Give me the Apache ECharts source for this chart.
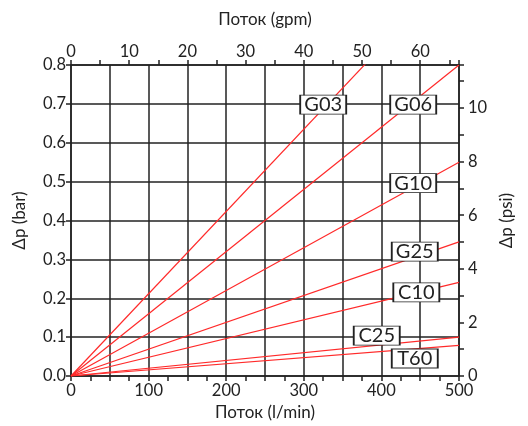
<!DOCTYPE html>
<html>
<head>
<meta charset="utf-8">
<script src="https://cdn.jsdelivr.net/npm/echarts@6/dist/echarts.min.js"></script>
<style>html,body{margin:0;padding:0;background:#fff}#c{width:528px;height:426px}</style>
</head>
<body>
<div id="c"></div>
<script>
// Flow (l/min) and pressure drop (bar) at those flows
const flow = [0, 500];
const G03 = [0, 1.058];
const G06 = [0, 0.800];
const G10 = [0, 0.550];
const G25 = [0, 0.345];
const C10 = [0, 0.241];
const C25 = [0, 0.100];
const T60 = [0, 0.079];
const seriesNames = ['G03', 'G06', 'G10', 'G25', 'C10', 'C25', 'T60'];
const seriesValues = [G03, G06, G10, G25, C10, C25, T60];
// label anchor (in data units) for each series tag
const tagX = [325, 441, 441, 443, 445, 394, 443];
const tagY = [0.698, 0.698, 0.496, 0.320, 0.215, 0.104, 0.045];

const FONT = 'Lato, "DejaVu Sans", sans-serif';
const INK = '#222';
const LPM_PER_GPM = 7.5;
const PSI_PER_BAR = 14.5038;

const chart = echarts.init(document.getElementById('c'));
const axisLineStyle = { color: INK, width: 1.5 };
const baseLabel = { color: INK, fontSize: 16.5, fontFamily: FONT };

chart.setOption({
  animation: false,
  backgroundColor: '#fff',
  grid: { left: 71, right: 69, top: 65, bottom: 50, containLabel: false },
  xAxis: [
    {
      type: 'value', position: 'bottom', min: 0, max: 500, interval: 50,
      name: 'Поток (l/min)', nameLocation: 'middle', nameGap: 28,
      nameTextStyle: { color: INK, fontSize: 17, fontFamily: FONT },
      axisLine: { show: true, lineStyle: axisLineStyle },
      axisTick: { show: true, inside: false, length: 5, lineStyle: axisLineStyle },
      minorTick: { show: true, splitNumber: 2, length: 5, lineStyle: axisLineStyle },
      splitLine: { show: true, lineStyle: { color: INK, width: 1.5 } },
      axisLabel: Object.assign({}, baseLabel, { margin: 6, formatter: v => (v % 100 === 0 ? String(v) : '') })
    },
    {
      type: 'value', position: 'top', min: 0, max: 500 / LPM_PER_GPM, interval: 10,
      name: 'Поток (gpm)', nameLocation: 'middle', nameGap: 37,
      nameTextStyle: { color: INK, fontSize: 17, fontFamily: FONT },
      axisLine: { show: true, onZero: false, lineStyle: axisLineStyle },
      axisTick: { show: true, inside: false, length: 5, lineStyle: axisLineStyle },
      minorTick: { show: true, splitNumber: 2, length: 5, lineStyle: axisLineStyle },
      splitLine: { show: false },
      axisLabel: Object.assign({}, baseLabel, { margin: 5, showMaxLabel: false, formatter: v => (Math.abs(v % 10) < 1e-6 ? String(Math.round(v)) : '') })
    }
  ],
  yAxis: [
    {
      type: 'value', position: 'left', min: 0, max: 0.8, interval: 0.1,
      name: 'Δp (bar)', nameLocation: 'middle', nameGap: 43, nameRotate: 90,
      nameTextStyle: { color: INK, fontSize: 17, fontFamily: FONT },
      axisLine: { show: true, lineStyle: axisLineStyle },
      axisTick: { show: true, inside: false, length: 5, lineStyle: axisLineStyle },
      splitLine: { show: true, lineStyle: { color: INK, width: 1.5 } },
      axisLabel: Object.assign({}, baseLabel, { margin: 5, formatter: v => v.toFixed(1) })
    },
    {
      type: 'value', position: 'right', min: 0, max: 0.8 * PSI_PER_BAR, interval: 2,
      name: 'Δp (psi)', nameLocation: 'middle', nameGap: 26, nameRotate: 90,
      nameTextStyle: { color: INK, fontSize: 17, fontFamily: FONT },
      axisLine: { show: true, onZero: false, lineStyle: axisLineStyle },
      axisTick: { show: true, inside: false, length: 5, lineStyle: axisLineStyle },
      minorTick: { show: true, splitNumber: 2, length: 5, lineStyle: axisLineStyle },
      splitLine: { show: false },
      axisLabel: Object.assign({}, baseLabel, { margin: 9, showMaxLabel: false, formatter: v => (Math.abs(v % 2) < 1e-6 ? String(Math.round(v)) : '') })
    }
  ],
  series: seriesNames.map((name, i) => ({
    name: name,
    type: 'line',
    xAxisIndex: 0, yAxisIndex: 0,
    data: flow.map((x, j) => [x, seriesValues[i][j]]),
    showSymbol: false,
    clip: true,
    lineStyle: { color: '#ff2a2a', width: 1.2 },
    z: 3,
    markPoint: {
      symbol: 'rect',
      symbolSize: [46, 19],
      itemStyle: { color: '#fff', borderColor: INK, borderWidth: 1.2 },
      label: { show: true, position: 'inside', color: INK, fontSize: 20, fontFamily: FONT, formatter: name },
      data: [{ coord: [tagX[i], tagY[i]] }],
      z: 5
    }
  }))
});
</script>
</body>
</html>
